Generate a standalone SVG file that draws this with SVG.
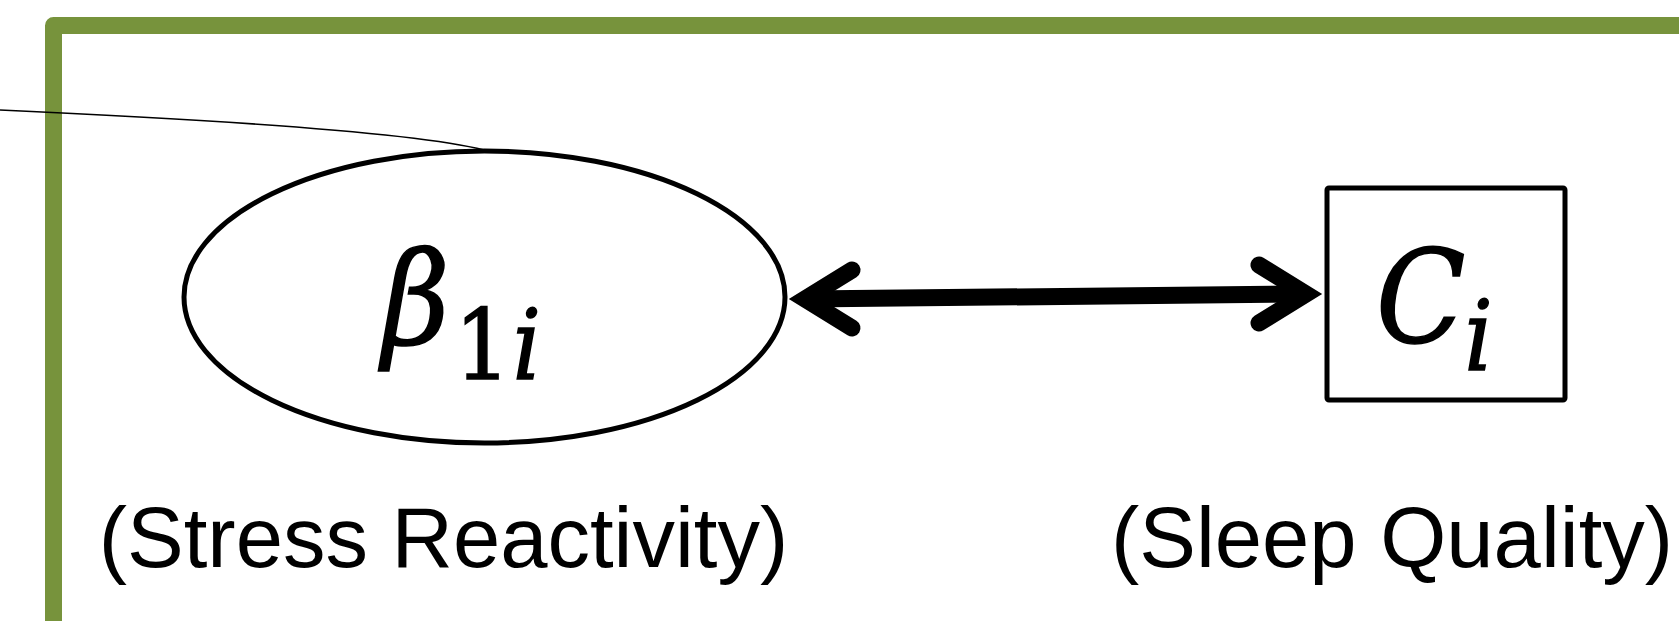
<svg xmlns="http://www.w3.org/2000/svg" width="1679" height="621" viewBox="0 0 1679 621">
  <style>
    .frame { fill: none; stroke: #77933C; stroke-width: 17; stroke-linejoin: round; }
    .node { fill: #fff; stroke: #000; stroke-width: 5; }
    .math { font-family: "DejaVu Serif", "Liberation Serif", serif; font-stretch: condensed; font-style: italic; fill: #000; stroke: #000; stroke-width: 1.5; }
    .up { font-style: normal; }
    .label { font-family: "Liberation Sans", Arial, sans-serif; font-size: 85px; fill: #000; text-anchor: middle; }
    .conn { fill: none; stroke: #000; }
    .head { fill: none; stroke: #000; stroke-width: 17; stroke-linecap: round; stroke-linejoin: miter; stroke-miterlimit: 10; }
  </style>
  <rect width="1679" height="621" fill="#fff"/>
  <g id="frame">
    <rect class="frame" x="53.5" y="25.5" width="1700" height="700"/>
  </g>
  <g id="node-beta">
    <ellipse class="node" cx="484.5" cy="297" rx="300.5" ry="146"/>
    <text class="math" x="382" y="344" font-size="130">β<tspan class="up" font-size="98" dy="35" dx="5">1</tspan><tspan font-size="98" dx="2">i</tspan></text>
  </g>
  <g id="node-c">
    <rect class="node" x="1327" y="188" width="238" height="212" rx="2"/>
    <text class="math" x="1376" y="342" font-size="130">C<tspan font-size="98" dy="28" dx="-1">i</tspan></text>
  </g>
  <g id="connectors">
    <path class="conn" stroke-width="1.6" d="M0,110 Q400,128 484,150"/>
    <path class="conn" stroke-width="17" d="M805,299 L1306,294"/>
    <path class="head" d="M852,270 L805,299 L852,328"/>
    <path class="head" d="M1259,265 L1306,294 L1259,323"/>
  </g>
  <g id="label-stress">
    <text class="label" x="443.5" y="567">(Stress Reactivity)</text>
  </g>
  <g id="label-sleep">
    <text class="label" x="1392" y="567">(Sleep Quality)</text>
  </g>
</svg>
